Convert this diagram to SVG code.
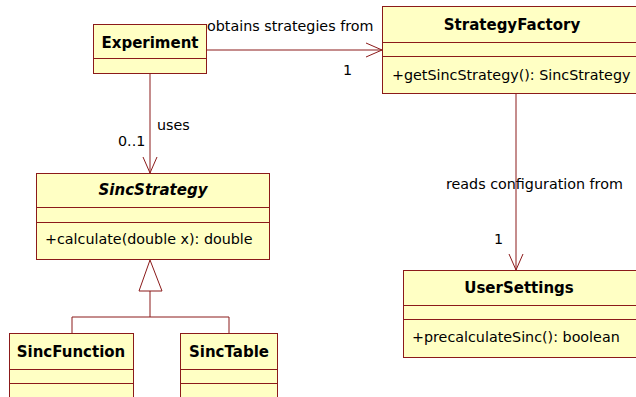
<svg xmlns="http://www.w3.org/2000/svg" width="636" height="397" viewBox="0 0 636 397">
  <style>
    .box { fill: #ffffc4; stroke: #8b1a1a; stroke-width: 1; }
    .div { stroke: #8b1a1a; stroke-width: 1; fill: none; }
    .edge { stroke: #8b1a1a; stroke-width: 1; fill: none; }
    .name { font-family: "DejaVu Sans", Verdana, sans-serif; font-size: 15px; font-weight: bold; fill: #000; text-anchor: middle; }
    .abstract { font-style: italic; }
    .op { font-family: "DejaVu Sans", Verdana, sans-serif; font-size: 14.3px; fill: #000; }
    .lbl { font-family: "DejaVu Sans", Verdana, sans-serif; font-size: 14.3px; fill: #000; }
  </style>
  <defs>
    <marker id="open" markerWidth="18" markerHeight="16" refX="16" refY="8" orient="auto" markerUnits="userSpaceOnUse">
      <path d="M0,1 L16,8 L0,15" fill="none" stroke="#8b1a1a" stroke-width="1"/>
    </marker>
  </defs>

  <rect width="636" height="397" fill="#ffffff"/>

  <!-- connectors -->
  <g id="connectors">
    <line class="edge" x1="207" y1="50" x2="382" y2="50" marker-end="url(#open)"/>
    <line class="edge" x1="150" y1="73" x2="150" y2="173" marker-end="url(#open)"/>
    <line class="edge" x1="516" y1="93" x2="516" y2="270" marker-end="url(#open)"/>
    <!-- generalization -->
    <polyline class="edge" points="72,333 72,317 229,317 229,333"/>
    <line class="edge" x1="150" y1="317" x2="150" y2="291"/>
    <polygon points="150,260 139,291 162,291" fill="#ffffff" stroke="#8b1a1a" stroke-width="1"/>
    <text class="lbl" x="207" y="31">obtains strategies from</text>
    <text class="lbl" x="343" y="75">1</text>
    <text class="lbl" x="157" y="130">uses</text>
    <text class="lbl" x="118" y="146">0..1</text>
    <text class="lbl" x="446" y="189">reads configuration from</text>
    <text class="lbl" x="494" y="244">1</text>
  </g>

  <g id="Experiment">
    <rect class="box" x="93.5" y="24.5" width="113" height="49"/>
    <line class="div" x1="93.5" y1="58.5" x2="206.5" y2="58.5"/>
    <text class="name" x="150" y="48">Experiment</text>
  </g>

  <g id="StrategyFactory">
    <rect class="box" x="382.5" y="6.5" width="260" height="87"/>
    <line class="div" x1="382.5" y1="42.5" x2="642" y2="42.5"/>
    <line class="div" x1="382.5" y1="56.5" x2="642" y2="56.5"/>
    <text class="name" x="512" y="30">StrategyFactory</text>
    <text class="op" x="392" y="80">+getSincStrategy(): SincStrategy</text>
  </g>

  <g id="SincStrategy">
    <rect class="box" x="36.5" y="173.5" width="233" height="86"/>
    <line class="div" x1="36.5" y1="207.5" x2="269.5" y2="207.5"/>
    <line class="div" x1="36.5" y1="222.5" x2="269.5" y2="222.5"/>
    <text class="name abstract" x="153" y="195">SincStrategy</text>
    <text class="op" x="45" y="244">+calculate(double x): double</text>
  </g>

  <g id="SincFunction">
    <rect class="box" x="9.5" y="333.5" width="124" height="80"/>
    <line class="div" x1="9.5" y1="369.5" x2="133.5" y2="369.5"/>
    <line class="div" x1="9.5" y1="383.5" x2="133.5" y2="383.5"/>
    <text class="name" x="71" y="357">SincFunction</text>
  </g>

  <g id="SincTable">
    <rect class="box" x="180.5" y="333.5" width="97" height="80"/>
    <line class="div" x1="180.5" y1="369.5" x2="277.5" y2="369.5"/>
    <line class="div" x1="180.5" y1="383.5" x2="277.5" y2="383.5"/>
    <text class="name" x="229" y="357">SincTable</text>
  </g>

  <g id="UserSettings">
    <rect class="box" x="403.5" y="270.5" width="240" height="87"/>
    <line class="div" x1="403.5" y1="305.5" x2="642" y2="305.5"/>
    <line class="div" x1="403.5" y1="319.5" x2="642" y2="319.5"/>
    <text class="name" x="519" y="293">UserSettings</text>
    <text class="op" x="412" y="342">+precalculateSinc(): boolean</text>
  </g>
</svg>
